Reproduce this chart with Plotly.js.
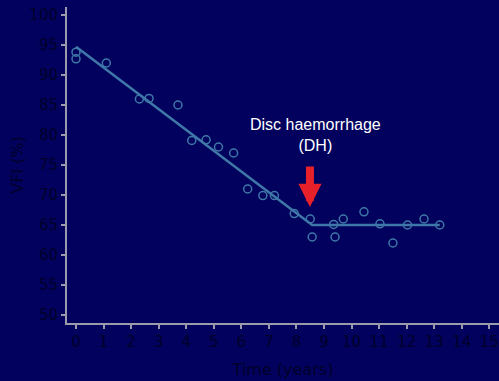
<!DOCTYPE html>
<html>
<head>
<meta charset="utf-8">
<script src="https://cdn.plot.ly/plotly-3.0.1.min.js"></script>
<style>html,body{margin:0;padding:0;background:#02025e;}#chart{width:499px;height:381px;}</style>
</head>
<body>
<div id="chart"></div>
<script>
var years = [0, 0, 1.1, 2.3, 2.65, 3.7, 4.2, 4.72, 5.17, 5.72, 6.23, 6.78, 7.2, 7.92, 8.5, 8.57, 9.35, 9.4, 9.7, 10.45, 11.03, 11.5, 12.03, 12.63, 13.2];
var vfi = [93.8, 92.7, 92.0, 86.0, 86.1, 85.0, 79.1, 79.2, 78.0, 77.0, 71.0, 69.9, 69.9, 66.9, 66.0, 63.0, 65.1, 63.0, 66.0, 67.2, 65.2, 62.0, 65.0, 66.0, 65.0];
var fitYears = [0, 8.57, 13.2];
var fitVfi = [94.7, 65.0, 65.0];
var xTicks = [0,1,2,3,4,5,6,7,8,9,10,11,12,13,14,15];
var yTicks = [50,55,60,65,70,75,80,85,90,95,100];
var dhYear = 8.49;
var dhTipVfi = 68.0;

var lineCol = '#3f78a8';
var data = [
  {x: fitYears, y: fitVfi, mode: 'lines', type: 'scatter', line: {color: lineCol, width: 2.5}, hoverinfo: 'skip'},
  {x: years, y: vfi, mode: 'markers', type: 'scatter',
   marker: {symbol: 'circle-open', size: 8, color: lineCol, line: {width: 1.5, color: lineCol}}}
];
var tickFont = {family: 'DejaVu Sans', size: 15, color: '#00002a'};
var titleFont = {family: 'DejaVu Sans', size: 16, color: '#00002a'};
var layout = {
  width: 499, height: 381,
  paper_bgcolor: '#02025e', plot_bgcolor: '#02025e',
  showlegend: false,
  margin: {l: 67, r: 0, t: 7, b: 58},
  xaxis: {range: [-0.327, 15.35], tickvals: xTicks, ticktext: xTicks.map(String),
    showgrid: false, zeroline: false, showline: true, linecolor: '#9a9aaa', linewidth: 2,
    ticks: 'outside', ticklen: 4, tickwidth: 2, tickcolor: '#9a9aaa', tickfont: tickFont,
    title: {text: 'Time (years)', font: titleFont, standoff: 14}},
  yaxis: {range: [48.67, 101.33], tickvals: yTicks, ticktext: yTicks.map(String),
    showgrid: false, zeroline: false, showline: true, linecolor: '#9a9aaa', linewidth: 2,
    ticks: 'outside', ticklen: 4, tickwidth: 2, tickcolor: '#9a9aaa', tickfont: tickFont,
    title: {text: 'VFI (%)', font: titleFont, standoff: 2}},
  annotations: [
    {x: dhYear, y: dhTipVfi, xref: 'x', yref: 'y', text: '', showarrow: true,
     arrowhead: 2, arrowsize: 0.58, arrowwidth: 8, arrowcolor: '#e8202a', ax: 0, ay: -42, standoff: 0},
    {x: dhYear, y: dhTipVfi, xref: 'x', yref: 'y', text: 'Disc haemorrhage<br>(DH)', showarrow: false,
     xshift: 6, yshift: 72, font: {family: 'Liberation Sans, Arial', size: 16, color: '#ffffff'}}
  ]
};
Plotly.newPlot('chart', data, layout, {displayModeBar: false, staticPlot: true});
</script>
</body>
</html>
